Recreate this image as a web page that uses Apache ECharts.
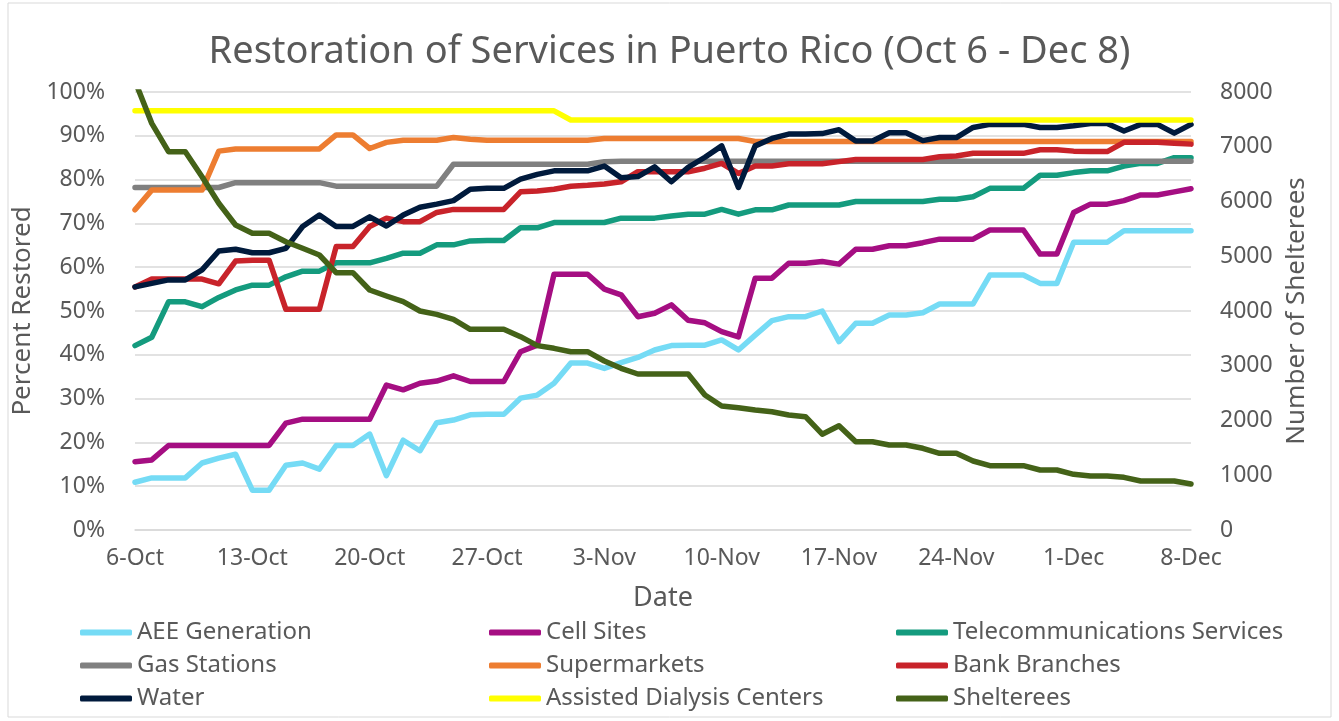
<!DOCTYPE html>
<html>
<head>
<meta charset="utf-8">
<script src="https://cdn.jsdelivr.net/npm/echarts@6/dist/echarts.min.js"></script>
<style>
  html, body { margin: 0; padding: 0; background: #fff; }
  #main { width: 1339px; height: 721px; }
</style>
</head>
<body>
<div id="main"></div>
<script>
var dates = ['6-Oct','7-Oct','8-Oct','9-Oct','10-Oct','11-Oct','12-Oct','13-Oct','14-Oct','15-Oct','16-Oct','17-Oct','18-Oct','19-Oct',
  '20-Oct','21-Oct','22-Oct','23-Oct','24-Oct','25-Oct','26-Oct','27-Oct','28-Oct','29-Oct','30-Oct','31-Oct','1-Nov','2-Nov',
  '3-Nov','4-Nov','5-Nov','6-Nov','7-Nov','8-Nov','9-Nov','10-Nov','11-Nov','12-Nov','13-Nov','14-Nov','15-Nov','16-Nov',
  '17-Nov','18-Nov','19-Nov','20-Nov','21-Nov','22-Nov','23-Nov','24-Nov','25-Nov','26-Nov','27-Nov','28-Nov','29-Nov','30-Nov',
  '1-Dec','2-Dec','3-Dec','4-Dec','5-Dec','6-Dec','7-Dec','8-Dec'];

var aeeGeneration = [10.9,11.9,11.9,11.9,15.3,16.4,17.3,9.1,9.1,14.8,15.3,13.9,19.3,19.3,
  21.9,12.4,20.5,18.1,24.5,25.1,26.3,26.4,26.4,30.1,30.8,33.5,38.1,38.1,
  36.9,38.2,39.4,41.1,42.1,42.2,42.2,43.4,41.1,44.5,47.8,48.7,48.7,50.0,
  43.0,47.2,47.2,49.1,49.1,49.6,51.6,51.6,51.6,58.2,58.2,58.2,56.3,56.3,
  65.7,65.7,65.7,68.3,68.3,68.3,68.3,68.3];

var cellSites = [15.6,16.0,19.3,19.3,19.3,19.3,19.3,19.3,19.3,24.4,25.3,25.3,25.3,25.3,
  25.3,33.1,32.0,33.5,34.0,35.2,33.9,33.9,33.9,40.7,42.2,58.4,58.4,58.4,
  55.0,53.7,48.7,49.5,51.4,47.9,47.3,45.3,44.1,57.5,57.5,60.9,60.9,61.3,
  60.7,64.1,64.1,64.9,64.9,65.6,66.4,66.4,66.4,68.5,68.5,68.5,63.0,63.0,
  72.5,74.4,74.4,75.2,76.5,76.5,77.2,77.9];

var telecom = [42.1,44.0,52.1,52.1,51.0,53.1,54.8,55.9,55.9,57.8,59.1,59.1,61.0,61.0,
  61.0,62.0,63.2,63.2,65.1,65.1,66.0,66.1,66.1,69.0,69.0,70.2,70.2,70.2,
  70.2,71.2,71.2,71.2,71.7,72.1,72.1,73.2,72.1,73.1,73.1,74.2,74.2,74.2,
  74.2,75.0,75.0,75.0,75.0,75.0,75.5,75.5,76.1,78.0,78.0,78.0,81.0,81.0,
  81.6,82.0,82.0,83.1,83.7,83.7,85.0,85.0];

var gasStations = [78.2,78.2,78.2,78.2,78.2,78.2,79.3,79.3,79.3,79.3,79.3,79.3,78.5,78.5,
  78.5,78.5,78.5,78.5,78.5,83.5,83.5,83.5,83.5,83.5,83.5,83.5,83.5,83.5,
  84.1,84.2,84.2,84.2,84.2,84.2,84.2,84.2,84.2,84.2,84.2,84.2,84.2,84.2,
  84.2,84.2,84.2,84.2,84.2,84.2,84.2,84.2,84.2,84.2,84.2,84.2,84.2,84.2,
  84.2,84.2,84.2,84.2,84.2,84.2,84.2,84.2];

var supermarkets = [73.1,77.6,77.6,77.6,77.6,86.5,87.0,87.0,87.0,87.0,87.0,87.0,90.2,90.2,
  87.1,88.5,89.0,89.0,89.0,89.6,89.2,89.0,89.0,89.0,89.0,89.0,89.0,89.0,
  89.4,89.4,89.4,89.4,89.4,89.4,89.4,89.4,89.4,88.7,88.7,88.7,88.7,88.7,
  88.7,88.7,88.7,88.7,88.7,88.7,88.7,88.7,88.7,88.7,88.7,88.7,88.7,88.7,
  88.7,88.7,88.7,88.7,88.7,88.7,88.7,88.7];

var bankBranches = [55.5,57.3,57.3,57.3,57.3,56.2,61.4,61.6,61.6,50.4,50.4,50.4,64.7,64.7,
  69.3,71.2,70.4,70.4,72.5,73.2,73.2,73.2,73.2,77.2,77.4,77.8,78.5,78.7,
  79.0,79.5,81.8,81.8,81.8,81.8,82.6,83.7,81.4,83.1,83.1,83.6,83.6,83.6,
  84.1,84.6,84.6,84.6,84.6,84.6,85.2,85.4,86.0,86.0,86.0,86.0,86.8,86.8,
  86.5,86.4,86.4,88.5,88.5,88.5,88.3,88.1];

var water = [55.5,56.3,57.1,57.1,59.4,63.7,64.1,63.3,63.3,64.3,69.3,71.9,69.3,69.3,
  71.5,69.4,71.9,73.7,74.4,75.2,77.8,78.0,78.0,80.1,81.2,82.0,82.0,82.0,
  83.1,80.4,80.7,82.9,79.5,82.8,85.1,87.7,78.2,87.7,89.4,90.4,90.4,90.5,
  91.4,88.8,88.8,90.7,90.7,88.9,89.6,89.6,91.9,92.6,92.6,92.6,91.9,91.9,
  92.3,92.8,92.8,91.1,92.6,92.6,90.6,92.6];

var dialysis = [95.7,95.7,95.7,95.7,95.7,95.7,95.7,95.7,95.7,95.7,95.7,95.7,95.7,95.7,
  95.7,95.7,95.7,95.7,95.7,95.7,95.7,95.7,95.7,95.7,95.7,95.7,93.6,93.6,
  93.6,93.6,93.6,93.6,93.6,93.6,93.6,93.6,93.6,93.6,93.6,93.6,93.6,93.6,
  93.6,93.6,93.6,93.6,93.6,93.6,93.6,93.6,93.6,93.6,93.6,93.6,93.6,93.6,
  93.6,93.6,93.6,93.6,93.6,93.6,93.6,93.6];

var shelterees = [8200,7427,6910,6910,6453,5967,5571,5419,5419,5266,5145,5023,4700,4700,
  4384,4274,4170,4000,3939,3848,3666,3666,3666,3531,3367,3318,3257,3257,
  3087,2953,2849,2849,2849,2849,2466,2265,2234,2192,2161,2100,2070,1750,
  1905,1613,1613,1553,1553,1492,1400,1400,1260,1175,1175,1175,1096,1096,
  1017,986,986,962,895,895,895,840];

var txt = '#595959';
var font = 'Noto Sans';
var chart = echarts.init(document.getElementById('main'));

function line(name, data, color, axis) {
    return {
        name: name,
        type: 'line',
        data: data,
        yAxisIndex: axis || 0,
        symbol: 'none',
        lineStyle: { color: color, width: 5.5, cap: 'round', join: 'round' },
        itemStyle: { color: color },
        animation: false
    };
}

var legendBase = {
    orient: 'vertical',
    top: 615,
    icon: 'roundRect',
    itemWidth: 52,
    itemHeight: 6,
    itemGap: 8,
    textStyle: { color: txt, fontSize: 24, fontFamily: font, lineHeight: 25 }
};

option = {
    backgroundColor: '#fff',
    title: {
        text: 'Restoration of Services in Puerto Rico (Oct 6 - Dec 8)',
        left: 'center',
        top: 28,
        textStyle: { color: txt, fontSize: 38, fontWeight: 'normal', fontFamily: font }
    },
    graphic: [{
        type: 'rect',
        shape: { x: 8, y: 3, width: 1323, height: 714 },
        style: { fill: 'none', stroke: '#d9d9d9', lineWidth: 1 }
    }],
    legend: [
        Object.assign({ left: 75, data: ['AEE Generation', 'Gas Stations', 'Water'] }, legendBase),
        Object.assign({ left: 484, data: ['Cell Sites', 'Supermarkets', 'Assisted Dialysis Centers'] }, legendBase),
        Object.assign({ left: 891, data: ['Telecommunications Services', 'Bank Branches', 'Shelterees'] }, legendBase)
    ],
    grid: { left: 135, right: 148, top: 92, bottom: 191 },
    xAxis: {
        type: 'category',
        data: dates,
        boundaryGap: false,
        name: 'Date',
        nameLocation: 'middle',
        nameGap: 55,
        nameTextStyle: { color: txt, fontSize: 27, fontFamily: font },
        axisLine: { lineStyle: { color: '#d9d9d9', width: 1.5 } },
        axisTick: { show: false },
        axisLabel: { interval: 6, color: txt, fontSize: 23, fontFamily: font, margin: 17 }
    },
    yAxis: [{
        type: 'value',
        min: 0,
        max: 100,
        interval: 10,
        name: 'Percent Restored',
        nameLocation: 'middle',
        nameGap: 80,
        nameTextStyle: { color: txt, fontSize: 26, fontFamily: font },
        axisLabel: { formatter: '{value}%', color: txt, fontSize: 23, fontFamily: font, margin: 30 },
        axisLine: { show: false },
        axisTick: { show: false },
        splitLine: { lineStyle: { color: '#d9d9d9', width: 1.5 } }
    }, {
        type: 'value',
        min: 0,
        max: 8000,
        interval: 1000,
        name: 'Number of Shelterees',
        nameLocation: 'middle',
        nameGap: 92,
        nameRotate: 90,
        nameTextStyle: { color: txt, fontSize: 26, fontFamily: font },
        axisLabel: {
            formatter: function (v) { return String(v); },
            color: txt, fontSize: 23, fontFamily: font, margin: 29
        },
        axisLine: { show: false },
        axisTick: { show: false },
        splitLine: { show: false }
    }],
    series: [
        line('AEE Generation', aeeGeneration, '#75DBF5'),
        line('Cell Sites', cellSites, '#A50E82'),
        line('Telecommunications Services', telecom, '#149B7E'),
        line('Gas Stations', gasStations, '#808080'),
        line('Supermarkets', supermarkets, '#ED7D31'),
        line('Bank Branches', bankBranches, '#C8232A'),
        line('Water', water, '#001A3C'),
        line('Assisted Dialysis Centers', dialysis, '#FFFF00'),
        line('Shelterees', shelterees, '#446218', 1)
    ]
};
chart.setOption(option);
</script>
</body>
</html>
